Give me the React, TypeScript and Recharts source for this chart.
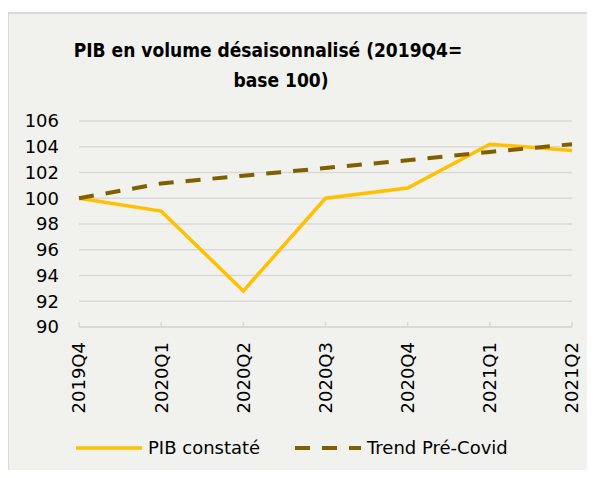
import React from 'react';
import { LineChart, Line, XAxis, YAxis, CartesianGrid } from 'recharts';

const quarters = ['2019Q4', '2020Q1', '2020Q2', '2020Q3', '2020Q4', '2021Q1', '2021Q2'];
const pibConstate = [100, 99.0, 92.8, 100, 100.8, 104.2, 103.7];
const trendPreCovid = [100, 101.15, 101.75, 102.35, 102.95, 103.6, 104.2];
const yTicks = [90, 92, 94, 96, 98, 100, 102, 104, 106];

const data = quarters.map((q, i) => ({ q, pib: pibConstate[i], trend: trendPreCovid[i] }));

const FONT = '"DejaVu Sans", Verdana, sans-serif';
const TITLE_FONT = '"DejaVu Sans Condensed", "DejaVu Sans", sans-serif';

const QuarterTick = (props: any) => {
  const { x, y, payload } = props;
  return (
    <g>
      <line x1={x} y1={y - 5} x2={x} y2={y} stroke="#d9d9d9" strokeWidth={1.5} />
      <text
        x={x}
        y={y + 15}
        dy="0.36em"
        textAnchor="end"
        transform={`rotate(-90, ${x}, ${y + 15})`}
        fontSize={18}
        fontFamily={FONT}
        fill="#000"
      >
        {payload.value}
      </text>
    </g>
  );
};

export default function App() {
  return (
    <div style={{ position: 'relative', width: 595, height: 478, background: '#fff', overflow: 'hidden', margin: '-8px' }}>
      <div
        style={{
          position: 'absolute',
          left: 7,
          top: 12,
          width: 620,
          height: 500,
          background: '#f1f1ed',
          border: '2px solid #d9d9d9',
        }}
      />
      <svg width={595} height={478} style={{ position: 'absolute', left: 0, top: 0 }}>
        <text x={268} y={57} textAnchor="middle" fontSize={19} fontWeight="bold" fontFamily={TITLE_FONT} fill="#000">
          PIB en volume désaisonnalisé (2019Q4=
        </text>
        <text x={281} y={87} textAnchor="middle" fontSize={19} fontWeight="bold" fontFamily={TITLE_FONT} fill="#000">
          base 100)
        </text>
        <line x1={76} y1={448} x2={142} y2={448} stroke="#ffc000" strokeWidth={3.5} />
        <text x={148} y={454} fontSize={18} fontFamily={FONT} fill="#000">PIB constaté</text>
        <line x1={295} y1={448} x2={361} y2={448} stroke="#7f6000" strokeWidth={4} strokeDasharray="15 12" />
        <text x={367} y={454} fontSize={18} fontFamily={FONT} fill="#000">Trend Pré-Covid</text>
      </svg>
      <div style={{ position: 'absolute', left: 0, top: 0 }}>
        <LineChart width={595} height={478} data={data} margin={{ top: 121, right: 23, left: 0, bottom: 61 }}>
          <CartesianGrid vertical={false} stroke="#d9d9d9" strokeWidth={1.5} />
          <XAxis
            dataKey="q"
            height={90}
            axisLine={{ stroke: '#d9d9d9', strokeWidth: 1.5 }}
            tickLine={false}
            tickSize={0}
            tickMargin={0}
            interval={0}
            tick={<QuarterTick />}
          />
          <YAxis
            width={79}
            domain={[90, 106]}
            ticks={yTicks}
            interval={0}
            axisLine={false}
            tickLine={false}
            tickSize={0}
            tickMargin={20}
            tick={{ fontSize: 18, fontFamily: FONT, fill: '#000' }}
          />
          <Line
            type="linear"
            dataKey="pib"
            stroke="#ffc000"
            strokeWidth={3.5}
            dot={false}
            isAnimationActive={false}
          />
          <Line
            type="linear"
            dataKey="trend"
            stroke="#7f6000"
            strokeWidth={4}
            strokeDasharray="15 12"
            dot={false}
            isAnimationActive={false}
          />
        </LineChart>
      </div>
    </div>
  );
}
